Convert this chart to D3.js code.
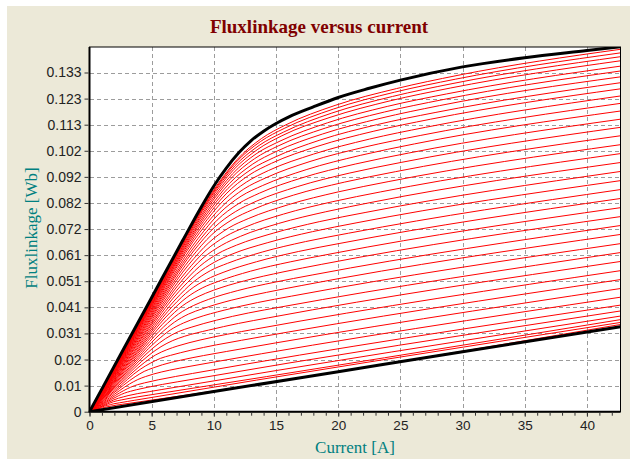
<!DOCTYPE html>
<html>
<head>
<meta charset="utf-8">
<script src="https://cdn.jsdelivr.net/npm/d3@7/dist/d3.min.js"></script>
<style>
  html, body { margin: 0; padding: 0; background: #ffffff; }
  svg { display: block; }
</style>
</head>
<body>
<svg id="chart" width="630" height="459"></svg>
<script>
// ---- data -------------------------------------------------------------
// Current axis ticks [A]
const xTicks = [0, 5, 10, 15, 20, 25, 30, 35, 40];
// Flux-linkage axis tick labels [Wb] (evenly spaced ticks)
const yTickLabels = ["0", "0.01", "0.02", "0.031", "0.041", "0.051", "0.061",
  "0.072", "0.082", "0.092", "0.102", "0.113", "0.123", "0.133"];
const yTickStep = 0.133 / 13;

// Aligned rotor position (upper bound)
const alignedI   = [0, 2.5, 5, 7.5, 9, 10, 11, 12, 13, 14, 15, 16, 18, 20, 22.5, 25, 30, 35, 40, 42.7];
const alignedPsi = [0, 0.0224, 0.0448, 0.0672, 0.0804, 0.0885, 0.0955, 0.1015, 0.1063, 0.1100,
  0.1130, 0.1155, 0.1195, 0.1232, 0.1268, 0.1300, 0.1352, 0.1388, 0.1416, 0.1431];

// Unaligned rotor position (lower bound)
const unalignedI   = [0, 10, 20, 30, 42.7];
const unalignedPsi = [0, 0.0079, 0.0157, 0.0235, 0.0333];

// Intermediate rotor positions, from near-aligned down to near-unaligned
const partialI = [
  [0, 4.94, 9.88, 11.85, 13.83, 15.80, 19.75, 24.69, 29.63, 42.7],
  [0, 4.91, 9.82, 11.78, 13.74, 15.71, 19.63, 24.54, 29.45, 42.7],
  [0, 4.87, 9.74, 11.69, 13.64, 15.59, 19.49, 24.36, 29.23, 42.7],
  [0, 4.84, 9.67, 11.61, 13.54, 15.47, 19.34, 24.18, 29.01, 42.7],
  [0, 4.79, 9.57, 11.49, 13.40, 15.32, 19.15, 23.94, 28.72, 42.7],
  [0, 4.74, 9.48, 11.38, 13.27, 15.17, 18.96, 23.71, 28.45, 42.7],
  [0, 4.69, 9.38, 11.25, 13.13, 15.00, 18.75, 23.44, 28.13, 42.7],
  [0, 4.63, 9.26, 11.12, 12.97, 14.82, 18.53, 23.16, 27.79, 42.7],
  [0, 4.57, 9.15, 10.98, 12.81, 14.64, 18.30, 22.87, 27.44, 42.7],
  [0, 4.50, 9.01, 10.81, 12.61, 14.41, 18.01, 22.52, 27.02, 42.7],
  [0, 4.43, 8.86, 10.64, 12.41, 14.18, 17.73, 22.16, 26.59, 42.7],
  [0, 4.35, 8.71, 10.45, 12.19, 13.93, 17.42, 21.77, 26.13, 42.7],
  [0, 4.27, 8.55, 10.26, 11.96, 13.67, 17.09, 21.37, 25.64, 42.7],
  [0, 4.19, 8.37, 10.05, 11.72, 13.40, 16.75, 20.94, 25.12, 42.7],
  [0, 4.10, 8.20, 9.83, 11.47, 13.11, 16.39, 20.49, 24.59, 42.7],
  [0, 4.00, 8.00, 9.60, 11.21, 12.81, 16.01, 20.01, 24.01, 42.7],
  [0, 3.90, 7.81, 9.37, 10.93, 12.49, 15.61, 19.51, 23.42, 42.7],
  [0, 3.80, 7.60, 9.12, 10.64, 12.16, 15.20, 19.00, 22.80, 42.7],
  [0, 3.69, 7.39, 8.86, 10.34, 11.82, 14.77, 18.47, 22.16, 42.7],
  [0, 3.59, 7.17, 8.60, 10.04, 11.47, 14.34, 17.93, 21.51, 42.7],
  [0, 3.47, 6.95, 8.34, 9.72, 11.11, 13.89, 17.37, 20.84, 42.7],
  [0, 3.36, 6.71, 8.06, 9.40, 10.74, 13.43, 16.79, 20.14, 42.7],
  [0, 3.24, 6.47, 7.77, 9.06, 10.36, 12.95, 16.19, 19.42, 42.7],
  [0, 3.11, 6.23, 7.47, 8.72, 9.96, 12.45, 15.56, 18.68, 42.7],
  [0, 2.98, 5.97, 7.16, 8.35, 9.55, 11.93, 14.92, 17.90, 42.7],
  [0, 2.85, 5.69, 6.83, 7.97, 9.11, 11.39, 14.24, 17.08, 42.7],
  [0, 2.70, 5.41, 6.49, 7.57, 8.65, 10.82, 13.52, 16.23, 42.7],
  [0, 2.55, 5.11, 6.13, 7.15, 8.17, 10.22, 12.77, 15.32, 42.7],
  [0, 2.39, 4.79, 5.75, 6.70, 7.66, 9.58, 11.97, 14.37, 42.7],
  [0, 2.22, 4.45, 5.33, 6.22, 7.11, 8.89, 11.11, 13.34, 42.7],
  [0, 2.04, 4.07, 4.89, 5.70, 6.52, 8.15, 10.19, 12.22, 42.7],
  [0, 1.83, 3.67, 4.40, 5.13, 5.86, 7.33, 9.16, 11.00, 42.7],
  [0, 1.62, 3.23, 3.88, 4.52, 5.17, 6.46, 8.08, 9.69, 42.7],
  [0, 1.38, 2.76, 3.31, 3.87, 4.42, 5.52, 6.91, 8.29, 42.7],
  [0, 1.17, 2.35, 2.82, 3.29, 3.76, 4.70, 5.87, 7.05, 42.7],
  [0, 0.97, 1.94, 2.33, 2.71, 3.10, 3.88, 4.85, 5.82, 42.7],
  [0, 0.80, 1.59, 1.91, 2.23, 2.55, 3.18, 3.98, 4.77, 42.7],
  [0, 0.61, 1.22, 1.46, 1.70, 1.95, 2.43, 3.04, 3.65, 42.7],
  [0, 0.44, 0.88, 1.05, 1.23, 1.40, 1.75, 2.19, 2.63, 42.7]
];
const partialPsi = [
  [0, 0.0435, 0.0862, 0.0988, 0.1071, 0.1125, 0.1201, 0.1267, 0.1319, 0.1421],
  [0, 0.0430, 0.0852, 0.0978, 0.1059, 0.1112, 0.1187, 0.1253, 0.1304, 0.1407],
  [0, 0.0424, 0.0841, 0.0964, 0.1044, 0.1096, 0.1171, 0.1236, 0.1287, 0.1392],
  [0, 0.0418, 0.0829, 0.0950, 0.1029, 0.1082, 0.1154, 0.1219, 0.1269, 0.1376],
  [0, 0.0410, 0.0813, 0.0932, 0.1011, 0.1061, 0.1133, 0.1197, 0.1246, 0.1355],
  [0, 0.0402, 0.0798, 0.0915, 0.0992, 0.1042, 0.1112, 0.1175, 0.1224, 0.1336],
  [0, 0.0394, 0.0781, 0.0895, 0.0971, 0.1020, 0.1089, 0.1151, 0.1200, 0.1313],
  [0, 0.0385, 0.0763, 0.0875, 0.0949, 0.0996, 0.1065, 0.1126, 0.1173, 0.1290],
  [0, 0.0376, 0.0745, 0.0854, 0.0927, 0.0974, 0.1040, 0.1100, 0.1147, 0.1266],
  [0, 0.0365, 0.0724, 0.0830, 0.0900, 0.0946, 0.1010, 0.1069, 0.1115, 0.1238],
  [0, 0.0354, 0.0702, 0.0804, 0.0873, 0.0917, 0.0981, 0.1038, 0.1083, 0.1209],
  [0, 0.0342, 0.0678, 0.0778, 0.0845, 0.0887, 0.0949, 0.1005, 0.1050, 0.1179],
  [0, 0.0330, 0.0654, 0.0751, 0.0815, 0.0857, 0.0917, 0.0971, 0.1014, 0.1147],
  [0, 0.0318, 0.0630, 0.0723, 0.0784, 0.0825, 0.0883, 0.0936, 0.0978, 0.1115],
  [0, 0.0305, 0.0605, 0.0694, 0.0753, 0.0792, 0.0849, 0.0900, 0.0941, 0.1082],
  [0, 0.0292, 0.0578, 0.0663, 0.0721, 0.0758, 0.0812, 0.0862, 0.0902, 0.1047],
  [0, 0.0278, 0.0551, 0.0633, 0.0687, 0.0723, 0.0775, 0.0823, 0.0862, 0.1012],
  [0, 0.0264, 0.0524, 0.0602, 0.0653, 0.0688, 0.0738, 0.0784, 0.0822, 0.0977],
  [0, 0.0251, 0.0497, 0.0570, 0.0620, 0.0653, 0.0700, 0.0745, 0.0781, 0.0942],
  [0, 0.0237, 0.0470, 0.0539, 0.0586, 0.0618, 0.0663, 0.0706, 0.0741, 0.0906],
  [0, 0.0223, 0.0442, 0.0508, 0.0553, 0.0582, 0.0626, 0.0667, 0.0700, 0.0871],
  [0, 0.0209, 0.0415, 0.0477, 0.0518, 0.0546, 0.0588, 0.0628, 0.0660, 0.0836],
  [0, 0.0196, 0.0388, 0.0446, 0.0485, 0.0511, 0.0551, 0.0588, 0.0619, 0.0800],
  [0, 0.0182, 0.0361, 0.0415, 0.0451, 0.0476, 0.0513, 0.0548, 0.0578, 0.0765],
  [0, 0.0168, 0.0333, 0.0383, 0.0416, 0.0440, 0.0475, 0.0508, 0.0536, 0.0730],
  [0, 0.0154, 0.0305, 0.0351, 0.0383, 0.0404, 0.0437, 0.0468, 0.0495, 0.0695],
  [0, 0.0140, 0.0278, 0.0320, 0.0348, 0.0368, 0.0398, 0.0428, 0.0453, 0.0659],
  [0, 0.0126, 0.0250, 0.0287, 0.0314, 0.0331, 0.0359, 0.0387, 0.0410, 0.0624],
  [0, 0.0112, 0.0222, 0.0255, 0.0279, 0.0296, 0.0320, 0.0346, 0.0368, 0.0589],
  [0, 0.0098, 0.0194, 0.0223, 0.0243, 0.0258, 0.0281, 0.0304, 0.0324, 0.0553],
  [0, 0.0083, 0.0166, 0.0190, 0.0209, 0.0221, 0.0241, 0.0262, 0.0280, 0.0518],
  [0, 0.0069, 0.0137, 0.0158, 0.0172, 0.0184, 0.0202, 0.0220, 0.0236, 0.0483],
  [0, 0.0055, 0.0109, 0.0126, 0.0138, 0.0148, 0.0163, 0.0178, 0.0192, 0.0449],
  [0, 0.0042, 0.0083, 0.0096, 0.0106, 0.0113, 0.0125, 0.0138, 0.0150, 0.0418],
  [0, 0.0032, 0.0063, 0.0073, 0.0080, 0.0086, 0.0096, 0.0107, 0.0117, 0.0395],
  [0, 0.0023, 0.0046, 0.0053, 0.0058, 0.0063, 0.0071, 0.0079, 0.0087, 0.0375],
  [0, 0.0017, 0.0033, 0.0039, 0.0043, 0.0046, 0.0052, 0.0059, 0.0065, 0.0361],
  [0, 0.0011, 0.0022, 0.0025, 0.0028, 0.0031, 0.0035, 0.0040, 0.0045, 0.0350],
  [0, 0.0007, 0.0013, 0.0015, 0.0017, 0.0019, 0.0022, 0.0026, 0.0029, 0.0342]
];

// ---- layout -----------------------------------------------------------
const W = 630, H = 459;
const plot = { left: 89.5, right: 620.5, top: 47, bottom: 411.7 };

const svg = d3.select("#chart");

// window panel
svg.append("rect").attr("x", 7).attr("y", 6).attr("width", W - 7).attr("height", H - 6)
  .attr("fill", "#ECE9D8");

const x = d3.scaleLinear().domain([0, 42.7]).range([plot.left, plot.right]);
const y = d3.scaleLinear().domain([0, 0.143]).range([plot.bottom, plot.top]);

const yTicks = yTickLabels.map((_, k) => k * yTickStep);

// plot background
svg.append("rect")
  .attr("x", plot.left).attr("y", plot.top)
  .attr("width", plot.right - plot.left).attr("height", plot.bottom - plot.top)
  .attr("fill", "#ffffff");

// grid
const grid = svg.append("g").attr("stroke", "#9c9c9c").attr("stroke-width", 1)
  .attr("stroke-dasharray", "4,3").attr("shape-rendering", "crispEdges");
grid.selectAll("line.v").data(xTicks.filter(d => d > 0)).join("line")
  .attr("class", "v")
  .attr("x1", d => Math.round(x(d)) + 0.5).attr("x2", d => Math.round(x(d)) + 0.5)
  .attr("y1", plot.top).attr("y2", plot.bottom);
grid.selectAll("line.h").data(yTicks.filter(d => d > 0)).join("line")
  .attr("class", "h")
  .attr("y1", d => Math.round(y(d)) + 0.5).attr("y2", d => Math.round(y(d)) + 0.5)
  .attr("x1", plot.left).attr("x2", plot.right);

// curves, clipped to the plotting area
svg.append("clipPath").attr("id", "plotClip").append("rect")
  .attr("x", plot.left).attr("y", plot.top)
  .attr("width", plot.right - plot.left).attr("height", plot.bottom - plot.top);

const line = d3.line()
  .x(d => x(d[0]))
  .y(d => y(d[1]))
  .curve(d3.curveMonotoneX);

const curves = svg.append("g").attr("clip-path", "url(#plotClip)");

const partialData = partialI.map((row, k) => row.map((c, j) => [c, partialPsi[k][j]]));
curves.selectAll("path.partial").data(partialData).join("path")
  .attr("class", "partial")
  .attr("d", line)
  .attr("fill", "none")
  .attr("stroke", "#ff0000")
  .attr("stroke-width", 1);

const bounds = [
  alignedI.map((c, j) => [c, alignedPsi[j]]),
  unalignedI.map((c, j) => [c, unalignedPsi[j]])
];
curves.selectAll("path.bound").data(bounds).join("path")
  .attr("class", "bound")
  .attr("d", line)
  .attr("fill", "none")
  .attr("stroke", "#000000")
  .attr("stroke-width", 3)
  .attr("stroke-linejoin", "round");

// frame
svg.append("rect")
  .attr("x", plot.left).attr("y", plot.top)
  .attr("width", plot.right - plot.left).attr("height", plot.bottom - plot.top)
  .attr("fill", "none").attr("stroke", "#000").attr("stroke-width", 1);
svg.append("line").attr("x1", plot.left).attr("x2", plot.left)
  .attr("y1", plot.top).attr("y2", plot.bottom + 1)
  .attr("stroke", "#000").attr("stroke-width", 2);
svg.append("line").attr("x1", plot.left - 1).attr("x2", plot.right)
  .attr("y1", plot.bottom).attr("y2", plot.bottom)
  .attr("stroke", "#000").attr("stroke-width", 2);

// axes
const tickFont = "'Liberation Sans', Arial, sans-serif";

const yAxis = svg.append("g")
  .attr("transform", `translate(${plot.left - 1},0)`)
  .call(d3.axisLeft(y).tickValues(yTicks).tickFormat((d, i) => yTickLabels[i])
    .tickSize(4).tickPadding(3));
yAxis.select(".domain").remove();
yAxis.selectAll(".tick text").style("font-size", "14px");

const xMinor = svg.append("g")
  .attr("transform", `translate(0,${plot.bottom + 1})`)
  .call(d3.axisBottom(x).tickValues(d3.range(0, 43, 1)).tickFormat("").tickSize(3));
xMinor.select(".domain").remove();

const xAxis = svg.append("g")
  .attr("transform", `translate(0,${plot.bottom + 1})`)
  .call(d3.axisBottom(x).tickValues(xTicks).tickSize(4).tickPadding(4));
xAxis.select(".domain").remove();
xAxis.selectAll(".tick text").style("font-size", "13.5px");

svg.selectAll(".tick line").attr("stroke", "#333");
svg.selectAll(".tick text")
  .attr("fill", "#222")
  .style("font-family", tickFont);

// titles
svg.append("text")
  .attr("x", 319).attr("y", 33)
  .attr("text-anchor", "middle")
  .attr("fill", "#800000")
  .style("font-family", "'Liberation Serif', 'Times New Roman', serif")
  .style("font-size", "19px")
  .style("font-weight", "bold")
  .text("Fluxlinkage versus current");

svg.append("text")
  .attr("x", (plot.left + plot.right) / 2).attr("y", 453)
  .attr("text-anchor", "middle")
  .attr("fill", "#008080")
  .style("font-family", "'Liberation Serif', 'Times New Roman', serif")
  .style("font-size", "17px")
  .text("Current [A]");

svg.append("text")
  .attr("transform", "translate(37,228) rotate(-90)")
  .attr("text-anchor", "middle")
  .attr("fill", "#008080")
  .style("font-family", "'Liberation Serif', 'Times New Roman', serif")
  .style("font-size", "17px")
  .text("Fluxlinkage [Wb]");
</script>
</body>
</html>
